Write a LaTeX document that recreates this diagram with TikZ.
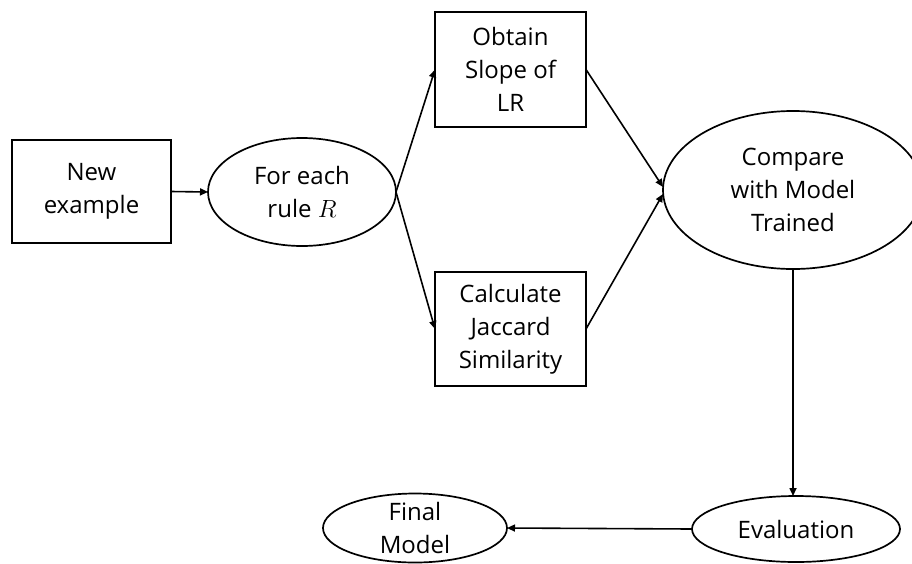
\documentclass[tikz,border=0pt]{standalone}
\usepackage{fontspec}
\setmainfont{Open Sans}
\usetikzlibrary{shapes.geometric,arrows.meta}

\tikzset{
  txt/.style={font=\fontsize{24}{33}\selectfont, align=center, inner sep=0pt},
  base/.style={draw, line width=1.7pt, inner sep=0pt, outer sep=0pt},
  box/.style={base, rectangle, txt},
  oval/.style={base, ellipse},
  conn/.style={line width=1.6pt, -{Triangle[length=8pt,width=7pt]}},
}

\begin{document}
\begin{tikzpicture}[x=1pt,y=-1pt]
  \useasboundingbox (0,0) rectangle (912,563);

  % process steps
  \node[box, minimum width=159pt, minimum height=103pt] (new) at (91.5,191.5) {New\\example};
  \node[oval, minimum width=188pt, minimum height=108pt,
        label={[txt]center:For each\\rule $R$}] (each) at (302,192) {};
  \node[box, minimum width=151pt, minimum height=115pt] (slope) at (510.5,69.5) {Obtain\\Slope of\\LR};
  \node[box, minimum width=151pt, minimum height=114pt] (jac) at (510.5,329) {Calculate\\Jaccard\\Similarity};
  \node[oval, minimum width=260pt, minimum height=158pt,
        label={[txt]center:Compare\\with Model\\Trained}] (cmp) at (793,190) {};
  \node[oval, minimum width=208pt, minimum height=66pt,
        label={[txt]center:Evaluation}] (eval) at (796,529) {};
  \node[oval, minimum width=184pt, minimum height=69pt,
        label={[txt]center:Final\\Model}] (final) at (415,528) {};

  % connectors
  \draw[conn] (new.east) -- (each.west);
  \draw[conn] (each.east) -- (slope.west);
  \draw[conn] (each.east) -- (jac.west);
  \draw[conn] (slope.east) -- ([yshift=3pt]cmp.west);
  \draw[conn] (jac.east) -- ([yshift=-4pt]cmp.west);
  \draw[conn] (cmp.south) -- (cmp.south |- eval.north);
  \draw[conn] (eval.west) -- (final.east);
\end{tikzpicture}
\end{document}
